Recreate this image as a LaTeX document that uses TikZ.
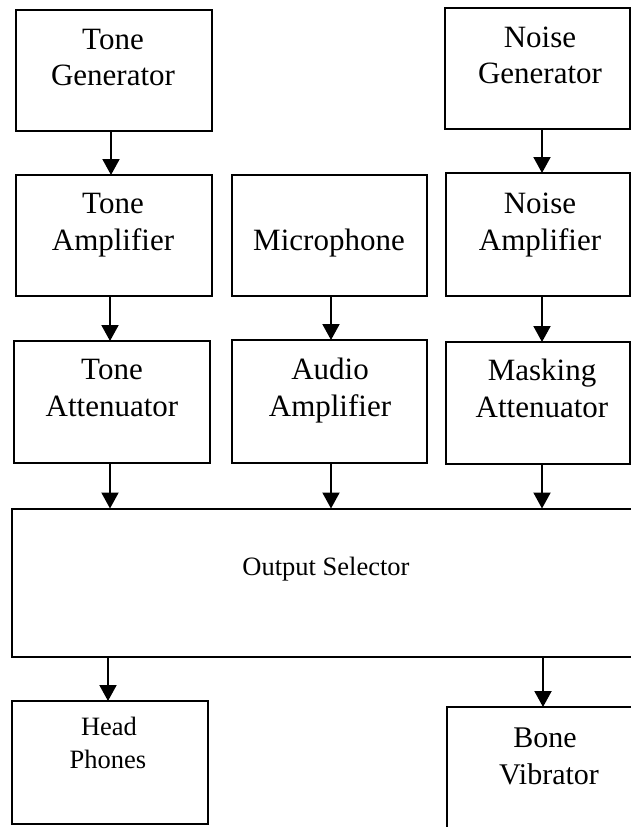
\documentclass[tikz,border=0pt]{standalone}
\usepackage{fontspec}
\setmainfont{Liberation Serif}
\usetikzlibrary{arrows.meta}
\begin{document}
\begin{tikzpicture}[x=1pt,y=-1pt,
  box/.style={draw, line width=2pt, inner sep=0pt, outer sep=0pt},
  lbl/.style={anchor=base, inner sep=0pt, font=\fontsize{31}{36}\selectfont},
  slbl/.style={anchor=base, inner sep=0pt, font=\fontsize{26.5}{32}\selectfont},
  blbl/.style={anchor=base, inner sep=0pt, font=\fontsize{30}{36}\selectfont},
  arr/.style={line width=2pt, -{Triangle[width=17pt,length=16pt]}}]
\useasboundingbox (0,0) rectangle (631,827);
\clip (0,0) rectangle (631,827);
% boxes
\node[box, minimum width=196pt, minimum height=121pt] (tg) at (114,70.5) {};
\node[box, minimum width=185pt, minimum height=121pt] (ng) at (537.5,68.5) {};
\node[box, minimum width=196pt, minimum height=121pt] (ta) at (114,235.5) {};
\node[box, minimum width=195pt, minimum height=121pt] (mic) at (329.5,235.5) {};
\node[box, minimum width=184pt, minimum height=123pt] (na) at (538,234.5) {};
\node[box, minimum width=196pt, minimum height=122pt] (tat) at (112,402) {};
\node[box, minimum width=195pt, minimum height=123pt] (aa) at (329.5,401.5) {};
\node[box, minimum width=184pt, minimum height=122pt] (ma) at (538,403) {};
\node[box, minimum width=648pt, minimum height=148.5pt] (os) at (336,582.75) {};
\node[box, minimum width=196pt, minimum height=123pt] (hp) at (110,762.5) {};
\node[box, minimum width=213pt, minimum height=143pt] (bv) at (553.5,778.5) {};
% labels
\node[lbl] (tg1) at (113,49) {Tone};
\node[lbl] (tg2) at (113,85) {Generator};
\node[lbl] (ng1) at (540,47) {Noise};
\node[lbl] (ng2) at (540,83) {Generator};
\node[lbl] (ta1) at (113,213) {Tone};
\node[lbl] (ta2) at (113,250) {Amplifier};
\node[lbl] (mic1) at (329,250) {Microphone};
\node[lbl] (na1) at (540,213) {Noise};
\node[lbl] (na2) at (540,250) {Amplifier};
\node[lbl] (tat1) at (112,379) {Tone};
\node[lbl] (tat2) at (112,416) {Attenuator};
\node[lbl] (aa1) at (330,379) {Audio};
\node[lbl] (aa2) at (330,416) {Amplifier};
\node[lbl] (ma1) at (542,380) {Masking};
\node[lbl] (ma2) at (542,417) {Attenuator};
\node[slbl] (os1) at (326,575) {Output Selector};
\node[slbl] (hp1) at (109,735) {Head};
\node[slbl] (hp2) at (108,768) {Phones};
\node[blbl] (bv1) at (545,747) {Bone};
\node[blbl] (bv2) at (549,784) {Vibrator};
% columns for connectors
\coordinate (cA) at (111,0);
\coordinate (cA2) at (110,0);
\coordinate (cB) at (331,0);
\coordinate (cC) at (542,0);
\coordinate (cD) at (108,0);
\coordinate (cE) at (543,0);
% connectors
\draw[arr] (tg.south -| cA) -- (ta.north -| cA);
\draw[arr] (ta.south -| cA2) -- (tat.north -| cA2);
\draw[arr] (tat.south -| cA2) -- (os.north -| cA2);
\draw[arr] (mic.south -| cB) -- (aa.north -| cB);
\draw[arr] (aa.south -| cB) -- (os.north -| cB);
\draw[arr] (ng.south -| cC) -- (na.north -| cC);
\draw[arr] (na.south -| cC) -- (ma.north -| cC);
\draw[arr] (ma.south -| cC) -- (os.north -| cC);
\draw[arr] (os.south -| cD) -- (hp.north -| cD);
\draw[arr] (os.south -| cE) -- (bv.north -| cE);
\end{tikzpicture}
\end{document}
